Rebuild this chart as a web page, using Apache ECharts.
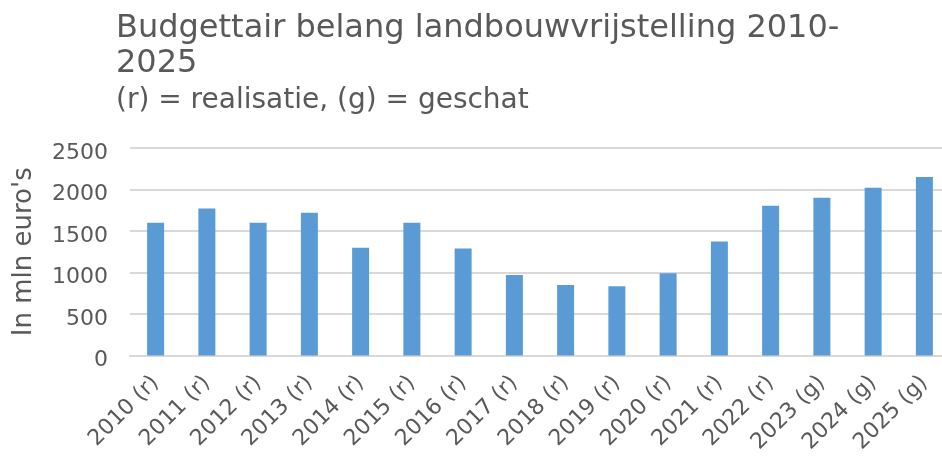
<!DOCTYPE html>
<html>
<head>
<meta charset="utf-8">
<script src="https://cdn.jsdelivr.net/npm/echarts@6/dist/echarts.min.js"></script>
<style>
  html, body { margin: 0; padding: 0; background: #fff; overflow: hidden; }
  #chart { width: 950px; height: 456px; }
</style>
</head>
<body>
<div id="chart"></div>
<script>
const years = ['2010 (r)', '2011 (r)', '2012 (r)', '2013 (r)', '2014 (r)', '2015 (r)',
  '2016 (r)', '2017 (r)', '2018 (r)', '2019 (r)', '2020 (r)', '2021 (r)',
  '2022 (r)', '2023 (g)', '2024 (g)', '2025 (g)'];
const budget = [1600, 1770, 1600, 1720, 1300, 1600, 1290, 970, 850, 835, 990, 1375,
  1805, 1900, 2020, 2150];
const yTicks = [0, 500, 1000, 1500, 2000, 2500];

const textColor = '#595959';
const font = 'DejaVu Sans';

// the plot runs a bit past the right edge of the window, so the div is wider than 942
const chart = echarts.init(document.getElementById('chart'));

chart.setOption({
  animation: false,
  textStyle: { fontFamily: font },
  title: [
    {
      text: 'Budgettair belang landbouwvrijstelling 2010-\n2025',
      left: 116,
      top: 11,
      padding: 0,
      textStyle: {
        fontFamily: font,
        fontSize: 32,
        fontWeight: 'normal',
        color: textColor,
        lineHeight: 35,
      },
    },
    {
      text: '(r) = realisatie, (g) = geschat',
      left: 116,
      top: 86,
      padding: 0,
      textStyle: {
        fontFamily: font,
        fontSize: 28,
        fontWeight: 'normal',
        color: textColor,
        lineHeight: 30,
      },
    },
  ],
  grid: {
    left: 130,
    top: 148,
    right: 0,
    bottom: 99,
    containLabel: false,
  },
  xAxis: {
    type: 'category',
    data: years,
    axisLine: { show: true, lineStyle: { color: '#d9d9d9', width: 2 } },
    axisTick: { show: false },
    axisLabel: {
      rotate: 45,
      interval: 0,
      color: textColor,
      fontFamily: font,
      fontSize: 22,
      margin: 24,
    },
  },
  yAxis: {
    type: 'value',
    min: yTicks[0],
    max: yTicks[yTicks.length - 1],
    interval: 500,
    name: "In mln euro's",
    nameLocation: 'middle',
    nameGap: 93,
    nameTextStyle: {
      color: textColor,
      fontFamily: font,
      fontSize: 26,
    },
    axisLine: { show: false },
    axisTick: { show: false },
    axisLabel: {
      color: textColor,
      fontFamily: font,
      fontSize: 22,
      margin: 22,
      verticalAlign: 'top',
      lineHeight: 10,
      formatter: (v) => String(v),
    },
    splitLine: { lineStyle: { color: '#d9d9d9', width: 2 } },
  },
  series: [
    {
      type: 'bar',
      data: budget,
      barWidth: 17,
      itemStyle: { color: '#5b9bd5' },
    },
  ],
});
</script>
</body>
</html>
